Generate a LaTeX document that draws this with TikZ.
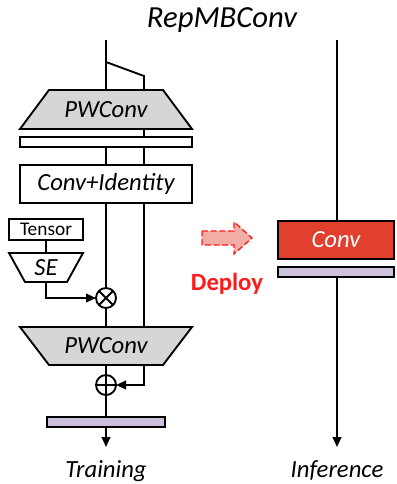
\documentclass[tikz,border=0pt]{standalone}
\usepackage{fontspec}
\setmainfont{Carlito}
\usetikzlibrary{arrows.meta,calc,backgrounds}
\definecolor{pwgray}{HTML}{D6D6D6}
\definecolor{convred}{HTML}{E2402E}
\definecolor{lav}{HTML}{CDC1DE}
\definecolor{deployred}{HTML}{FF1A1A}
\definecolor{arrowpink}{HTML}{F3ADA7}

\begin{document}
\begin{tikzpicture}[x=0.75pt,y=-0.75pt,
  wire/.style={line width=1.4pt},
  flow/.style={wire,-{Triangle[length=7.5pt,width=6.5pt]}},
  sz/.style 2 args={minimum width=#1*0.75pt,minimum height=#2*0.75pt},
  shapetext/.style={inner sep=0pt,outer sep=0pt,font=\fontsize{18.5}{22}\selectfont\itshape},
  plain/.style={draw,line width=1.4pt,fill=white,inner sep=0pt,outer sep=0pt,
                font=\fontsize{18.5}{22}\selectfont\itshape},
  trap/.style={draw,line width=1.4pt,fill=pwgray},
  opnode/.style={circle,draw,line width=1.4pt,fill=white,minimum size=20*0.75pt,
                 inner sep=0pt,outer sep=0pt},
  caption/.style={font=\fontsize{18.5}{22}\selectfont\itshape,anchor=base}
]
\useasboundingbox (0,0) rectangle (396,484);

% heading
\node[font=\fontsize{23}{27}\selectfont\itshape,anchor=base] (title) at (222,28) {RepMBConv};

% ---------------- training-time block ----------------
\coordinate (inL) at (106,40);
\coordinate (split) at (106,62);
\coordinate (br) at (144,76);

\node[shapetext,sz={172}{39}] (pw1) at (106,109.5) {PWConv};
\node[plain,sz={172}{38}] (ci) at (106,184) {Conv+Identity};

% skip branch runs behind the thin white bar
\begin{scope}[on background layer]
  \draw[wire] (br |- pw1.south) -- (br |- ci.north);
\end{scope}

\node[plain,sz={172}{10}] (bar1) at (106,142) {};
\node[plain,sz={74}{21},font=\fontsize{14.5}{16}\selectfont] (tensor) at (46,229.5) {Tensor};
\node[shapetext,sz={74}{29}] (se) at (46,267.5) {SE};
\node[opnode] (mul) at (106,298) {};
\node[shapetext,sz={172}{38}] (pw2) at (106,346) {PWConv};
\node[opnode] (add) at (106,385) {};
\node[plain,sz={118}{10},fill=lav] (bar2) at (106,422) {};
\coordinate (outL) at (106,447);
\node[caption] (train) at (106,477) {Training};

% trapezoid bodies
\begin{scope}[on background layer]
  \path[trap] ($(pw1.north west)+(29,0)$) -- ($(pw1.north east)+(-29,0)$)
              -- (pw1.south east) -- (pw1.south west) -- cycle;
  \path[trap] (pw2.north west) -- (pw2.north east)
              -- ($(pw2.south east)+(-29,0)$) -- ($(pw2.south west)+(29,0)$) -- cycle;
  \path[trap,fill=white] (se.north west) -- (se.north east)
              -- ($(se.south east)+(-16,0)$) -- ($(se.south west)+(16,0)$) -- cycle;
\end{scope}

% operator glyphs
\draw[wire] (mul.north west) -- (mul.south east) (mul.north east) -- (mul.south west);
\draw[wire] (add.north) -- (add.south) (add.west) -- (add.east);

% connectors
\draw[wire] (inL) -- (pw1.north);
\draw[wire] (split) -- (br) -- (br |- pw1.north);
\draw[wire] (bar1.south) -- (ci.north);
\draw[wire] (ci.south) -- (mul.north);
\draw[wire] (br |- ci.south) -- (br |- pw2.north);
\draw[wire] (tensor.south) -- (se.north);
\draw[flow] (se.south) |- (mul.west);
\draw[wire] (mul.south) -- (pw2.north);
\draw[wire] (pw2.south) -- (add.north);
\draw[flow] (br |- pw2.south) |- (add.east);
\draw[wire] (add.south) -- (bar2.north);
\draw[flow] (bar2.south) -- (outL);

% ---------------- deploy arrow ----------------
\draw[deployred,dash pattern=on 4.5pt off 2pt,line width=1pt,fill=arrowpink]
  (202,231) -- (234,231) -- (234,222) -- (252,238) -- (234,254) -- (234,245)
  -- (202,245) -- cycle;
\node[font=\fontsize{18.5}{22}\selectfont\bfseries,text=deployred,anchor=base] (deploy)
  at (227,290) {Deploy};

% ---------------- inference-time block ----------------
\coordinate (inR) at (337,40);
\node[plain,sz={116}{38},fill=convred,text=white] (conv) at (336,240) {Conv};
\node[plain,sz={116}{10},fill=lav] (bar3) at (336,272) {};
\coordinate (outR) at (337,447);
\node[caption] (infer) at (337,477) {Inference};

\draw[wire] (inR) -- (inR |- conv.north);
\draw[flow] (inR |- bar3.south) -- (outR);
\end{tikzpicture}
\end{document}
